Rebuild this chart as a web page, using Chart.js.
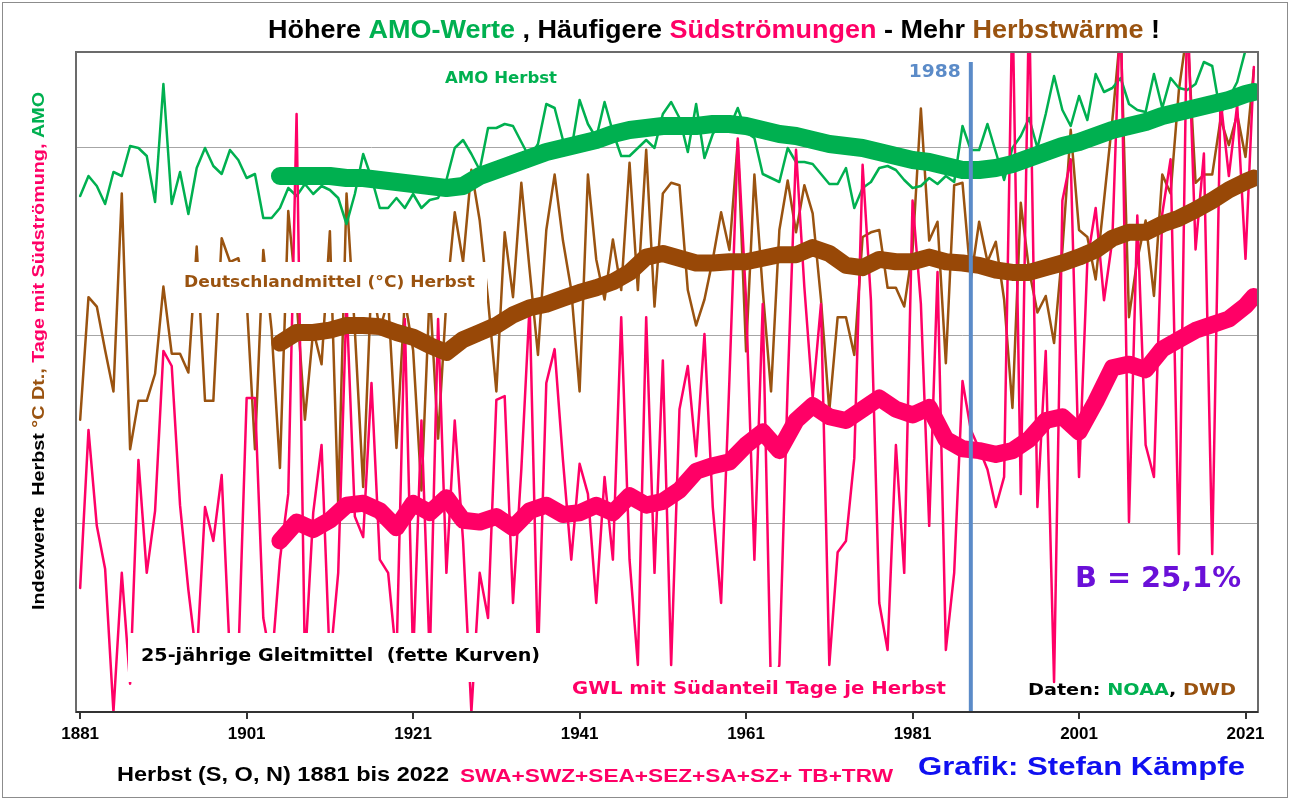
<!DOCTYPE html>
<html>
<head>
<meta charset="utf-8">
<title>Herbst 1881-2022</title>
<script src="https://cdn.jsdelivr.net/npm/chart.js@4.4.1/dist/chart.umd.min.js"></script>
<style>
  html, body { margin: 0; padding: 0; background: #fff; }
  #wrap { width: 1290px; height: 800px; }
</style>
</head>
<body>
<div id="wrap"><canvas id="herbstChart" width="1290" height="800"></canvas></div>
<script>
// Herbstwerte (S, O, N) 1881 bis 2022
const ersterJahrgang = 1881;

// AMO-Index Herbst (NOAA)
const amoHerbst = [
  -0.22, -0.12, -0.17, -0.26, -0.10, -0.12, 0.03, 0.02, -0.02, -0.25,
  0.34, -0.26, -0.10, -0.31, -0.08, 0.02, -0.07, -0.11, 0.01, -0.04,
  -0.13, -0.11, -0.33, -0.33, -0.28, -0.18, -0.22, -0.16, -0.21, -0.17,
  -0.19, -0.23, -0.36, -0.21, -0.01, -0.13, -0.28, -0.28, -0.23, -0.28,
  -0.21, -0.28, -0.24, -0.23, -0.14, 0.02, 0.06, -0.01, -0.09, 0.12,
  0.12, 0.14, 0.13, 0.05, -0.03, 0.04, 0.24, 0.22, 0.06, 0.01,
  0.26, 0.14, 0.07, 0.25, 0.10, -0.02, -0.02, 0.02, 0.06, 0.02,
  0.19, 0.25, 0.17, 0.00, 0.24, -0.03, 0.09, 0.15, 0.12, 0.22,
  0.10, 0.07, -0.11, -0.13, -0.15, 0.02, -0.05, -0.05, -0.06, -0.11,
  -0.16, -0.16, -0.08, -0.28, -0.18, -0.15, -0.08, -0.07, -0.09, -0.14,
  -0.18, -0.17, -0.13, -0.16, -0.12, -0.15, 0.13, 0.01, 0.01, 0.14,
  0.00, -0.14, 0.02, 0.08, 0.17, 0.02, 0.19, 0.38, 0.21, 0.13,
  0.28, 0.16, 0.39, 0.30, 0.32, 0.37, 0.24, 0.21, 0.20, 0.39,
  0.22, 0.37, 0.32, 0.31, 0.34, 0.45, 0.43, 0.19, 0.27, 0.35,
  0.51, 0.61
];

// Deutschlandmittel Herbst in °C (DWD)
const tempHerbst = [
  7.68, 8.72, 8.64, 8.27, 7.92, 9.60, 7.43, 7.84, 7.84, 8.07,
  8.81, 8.24, 8.24, 8.08, 9.15, 7.84, 7.84, 9.22, 9.02, 9.05,
  8.70, 7.43, 9.12, 8.44, 7.27, 9.45, 8.70, 7.68, 8.44, 8.15,
  9.28, 6.96, 9.60, 8.44, 7.11, 8.87, 8.44, 8.70, 7.44, 8.70,
  8.27, 7.08, 8.78, 7.52, 8.70, 9.44, 9.02, 9.80, 9.37, 8.70,
  7.92, 9.27, 8.72, 9.69, 8.95, 8.23, 9.29, 9.76, 9.20, 8.78,
  7.92, 9.76, 9.04, 8.70, 9.21, 8.78, 9.86, 8.78, 9.97, 8.64,
  9.60, 9.69, 9.67, 8.78, 8.48, 8.70, 9.04, 9.44, 9.12, 10.04,
  8.26, 9.76, 8.78, 7.92, 9.29, 9.71, 9.27, 9.67, 9.43, 8.70,
  7.76, 8.55, 8.55, 8.23, 9.23, 9.27, 9.29, 8.80, 8.80, 8.64,
  9.12, 10.32, 9.20, 9.36, 8.16, 9.67, 9.69, 8.87, 9.36, 9.02,
  9.19, 8.70, 7.78, 9.52, 8.95, 8.59, 8.73, 8.33, 9.12, 10.14,
  9.29, 9.23, 8.87, 9.54, 10.22, 10.99, 8.55, 9.04, 9.37, 8.73,
  9.76, 9.60, 10.48, 10.99, 9.69, 9.76, 9.76, 10.23, 10.01, 10.27,
  9.91, 10.65
];

// Tage mit Südanteil je Herbst (SWA+SWZ+SEA+SEZ+SA+SZ+TB+TRW)
const suedTage = [
  6.6, 15.0, 9.9, 7.6, 0, 7.4, 1.5, 13.4, 7.4, 10.7,
  19.2, 18.4, 11.0, 6.5, 2.8, 10.9, 9.1, 12.6, 2.8, 2.8,
  16.7, 16.7, 5.0, 2.5, 8.1, 11.6, 31.8, 2.5, 10.6, 14.2,
  2.5, 7.4, 21.9, 10.4, 9.3, 17.5, 8.1, 7.4, 2.8, 20.9,
  2.8, 15.5, 2.8, 20.9, 7.4, 15.5, 9.1, 0, 7.4, 5.0,
  16.6, 16.8, 5.8, 12.9, 21.7, 2.8, 17.5, 19.3, 13.4, 8.1,
  13.2, 11.6, 5.8, 12.5, 8.1, 21.0, 8.1, 2.5, 21.0, 7.4,
  18.7, 2.5, 16.1, 18.4, 13.6, 20.1, 10.9, 5.8, 17.7, 30.5,
  21.9, 8.1, 21.7, 0.9, 2.5, 17.4, 29.9, 22.6, 16.7, 21.7,
  2.5, 8.5, 9.1, 13.5, 29.1, 21.9, 5.8, 3.3, 14.2, 7.4,
  27.2, 21.7, 9.9, 23.4, 3.3, 7.4, 17.6, 15.0, 14.0, 12.9,
  10.9, 12.5, 38.0, 11.6, 38.0, 10.9, 19.2, 1.6, 27.2, 29.4,
  12.5, 24.0, 26.8, 21.9, 25.1, 38.0, 10.1, 26.4, 14.2, 12.5,
  26.5, 29.4, 8.4, 38.0, 24.6, 29.7, 8.4, 32.6, 28.5, 32.3,
  24.1, 34.3
];

// 25-jährige Gleitmittel (fette Kurven), Stützjahre
const gleitJahre = [
  1905, 1907, 1909, 1911, 1913, 1915, 1917, 1919, 1921, 1923,
  1925, 1927, 1929, 1931, 1933, 1935, 1937, 1939, 1941, 1943,
  1945, 1947, 1949, 1951, 1953, 1955, 1957, 1959, 1961, 1963,
  1965, 1967, 1969, 1971, 1973, 1975, 1977, 1979, 1981, 1983,
  1985, 1987, 1989, 1991, 1993, 1995, 1997, 1999, 2001, 2003,
  2005, 2007, 2009, 2011, 2013, 2015, 2017, 2019, 2021, 2022
];
const amoGleit = [
  -0.12, -0.12, -0.12, -0.12, -0.13, -0.13, -0.14, -0.15, -0.16, -0.17,
  -0.18, -0.17, -0.12, -0.09, -0.06, -0.03, 0.00, 0.02, 0.04, 0.06,
  0.09, 0.11, 0.12, 0.13, 0.13, 0.13, 0.14, 0.14, 0.13, 0.11,
  0.09, 0.08, 0.06, 0.04, 0.03, 0.02, 0.00, -0.02, -0.04, -0.05,
  -0.07, -0.09, -0.09, -0.08, -0.06, -0.03, 0.00, 0.03, 0.05, 0.08,
  0.11, 0.13, 0.15, 0.18, 0.20, 0.22, 0.24, 0.26, 0.29, 0.30
];
const tempGleit = [
  8.33, 8.42, 8.42, 8.44, 8.48, 8.48, 8.47, 8.42, 8.38, 8.31,
  8.25, 8.36, 8.42, 8.48, 8.57, 8.63, 8.66, 8.71, 8.76, 8.80,
  8.85, 8.93, 9.06, 9.09, 9.05, 9.01, 9.01, 9.02, 9.02, 9.05,
  9.08, 9.08, 9.14, 9.09, 8.99, 8.97, 9.04, 9.02, 9.02, 9.06,
  9.02, 9.01, 8.99, 8.95, 8.93, 8.93, 8.97, 9.01, 9.06, 9.12,
  9.22, 9.27, 9.27, 9.34, 9.39, 9.46, 9.54, 9.63, 9.70, 9.73
];
const suedGleit = [
  9.1, 10.1, 9.7, 10.2, 11.0, 11.1, 10.7, 9.8, 11.1, 10.6,
  11.4, 10.2, 10.1, 10.4, 9.8, 10.7, 11.0, 10.5, 10.6, 11.0,
  10.6, 11.5, 11.0, 11.2, 11.8, 12.8, 13.1, 13.3, 14.2, 14.9,
  13.9, 15.5, 16.3, 15.7, 15.5, 16.1, 16.7, 16.1, 15.8, 16.2,
  14.5, 14.0, 13.9, 13.7, 13.9, 14.5, 15.5, 15.7, 14.9, 16.5,
  18.3, 18.5, 18.2, 19.3, 19.8, 20.3, 20.6, 20.9, 21.6, 22.1
];

const tickJahre = [1881, 1901, 1921, 1941, 1961, 1981, 2001, 2021];
const markJahr = 1988;

const GRUEN = '#00b050';
const BRAUN = '#9a5310';
const BRAUN_DICK = '#984807';
const PINK = '#ff0066';
const STAHLBLAU = '#5b8bc8';

const F_SCHMAL = '"Liberation Sans Narrow", "Arial Narrow", "Liberation Sans", Arial, sans-serif';
const F_BREIT = '"DejaVu Sans", Verdana, sans-serif';

const jahre = amoHerbst.map((_, i) => ersterJahrgang + i);
const punkte = (xs, ys) => ys.map((v, i) => ({ x: xs[i], y: v }));

// mehrfarbiger Text, auf eine feste Breite gestaucht
function buntText(ctx, teile, x, y, breite, font, drehen) {
  ctx.save();
  ctx.font = font;
  let gesamt = 0;
  teile.forEach(t => { gesamt += ctx.measureText(t[0]).width; });
  ctx.translate(x, y);
  if (drehen) ctx.rotate(-Math.PI / 2);
  ctx.scale(breite / gesamt, 1);
  ctx.textBaseline = 'middle';
  ctx.textAlign = 'left';
  let cx = 0;
  teile.forEach(t => {
    ctx.fillStyle = t[1];
    ctx.fillText(t[0], cx, 0);
    cx += ctx.measureText(t[0]).width;
  });
  ctx.restore();
}

function weissFeld(ctx, x0, y0, x1, y1) {
  ctx.save();
  ctx.fillStyle = '#fff';
  ctx.fillRect(x0, y0, x1 - x0, y1 - y0);
  ctx.restore();
}

const deko = {
  id: 'deko',
  beforeDraw(chart) {
    const c = chart.ctx;
    c.save();
    c.fillStyle = '#fff';
    c.fillRect(0, 0, chart.width, chart.height);
    c.restore();
  },
  afterDatasetsDraw(chart) {
    const c = chart.ctx;
    const a = chart.chartArea;
    const mx = chart.scales.x.getPixelForValue(markJahr);

    // senkrechte Linie 1988
    c.save();
    c.strokeStyle = STAHLBLAU;
    c.lineWidth = 4;
    c.beginPath();
    c.moveTo(mx, a.top + 10);
    c.lineTo(mx, a.bottom);
    c.stroke();
    c.restore();

    // Beschriftungen im Diagramm
    buntText(c, [['1988', STAHLBLAU]], mx - 62, 73, 52, 'bold 17px ' + F_BREIT);
    buntText(c, [['AMO Herbst', GRUEN]], 445, 79, 112, 'bold 15px ' + F_BREIT);

    weissFeld(c, 178, 262, 487, 313);
    buntText(c, [['Deutschlandmittel (°C) Herbst', BRAUN]], 184, 283, 291, 'bold 15px ' + F_BREIT);

    weissFeld(c, 128, 633, 548, 682);
    buntText(c, [['25-jährige Gleitmittel  (fette Kurven)', '#000']], 141, 657, 399, 'bold 17px ' + F_BREIT);

    weissFeld(c, 562, 667, 958, 708);
    buntText(c, [['GWL mit Südanteil Tage je Herbst', PINK]], 572, 690, 374, 'bold 17px ' + F_BREIT);

    buntText(c, [['B = 25,1%', '#6a10d8']], 1075, 579, 166, 'bold 29px ' + F_BREIT);

    buntText(c, [['Daten: ', '#000'], ['NOAA', GRUEN], [', ', '#000'], ['DWD', BRAUN]],
      1028, 691, 208, 'bold 16px ' + F_BREIT);

    // Rahmen der Zeichenfläche
    c.save();
    c.strokeStyle = '#6b6b6b';
    c.lineWidth = 2;
    c.strokeRect(a.left, a.top, a.right - a.left, a.bottom - a.top);
    c.strokeStyle = '#333';
    c.beginPath();
    c.moveTo(a.left, a.bottom);
    c.lineTo(a.right, a.bottom);
    c.stroke();
    c.restore();
  },
  afterDraw(chart) {
    const c = chart.ctx;

    buntText(c, [
      ['Höhere ', '#000'], ['AMO-Werte', GRUEN], [' , Häufigere ', '#000'],
      ['Südströmungen', PINK], [' - Mehr ', '#000'], ['Herbstwärme', BRAUN], [' !', '#000']
    ], 268, 31, 892, 'bold 26px ' + F_SCHMAL);

    buntText(c, [
      ['Indexwerte  Herbst ', '#000'], ['°C Dt.,', BRAUN],
      [' Tage mit Südströmung,', PINK], [' AMO', GRUEN]
    ], 40, 610, 518, 'bold 16px "Liberation Sans", Arial, sans-serif', true);

    buntText(c, [['Herbst (S, O, N) 1881 bis 2022', '#000']], 117, 775, 332, 'bold 21px ' + F_SCHMAL);
    buntText(c, [['SWA+SWZ+SEA+SEZ+SA+SZ+ TB+TRW', PINK]], 460, 777, 433, 'bold 18px ' + F_SCHMAL);
    buntText(c, [['Grafik: Stefan Kämpfe', '#1010f0']], 918, 768, 327, 'bold 26px ' + F_SCHMAL);

    // äußerer Rahmen
    c.save();
    c.strokeStyle = '#8c8c8c';
    c.lineWidth = 1;
    c.strokeRect(2.5, 2.5, chart.width - 5, chart.height - 5);
    c.restore();
  }
};

const ctx = document.getElementById('herbstChart');
new Chart(ctx, {
  type: 'line',
  data: {
    datasets: [
      {
        label: 'AMO 25 J.',
        data: punkte(gleitJahre, amoGleit),
        yAxisID: 'yAmo',
        borderColor: GRUEN,
        borderWidth: 18,
        order: 0
      },
      {
        label: 'Temperatur 25 J.',
        data: punkte(gleitJahre, tempGleit),
        yAxisID: 'yTemp',
        borderColor: BRAUN_DICK,
        borderWidth: 17,
        order: 1
      },
      {
        label: 'Südlagen 25 J.',
        data: punkte(gleitJahre, suedGleit),
        yAxisID: 'y',
        borderColor: PINK,
        borderWidth: 17,
        order: 2
      },
      {
        label: 'Südlagen',
        data: punkte(jahre, suedTage),
        yAxisID: 'y',
        borderColor: PINK,
        borderWidth: 2.5,
        order: 3
      },
      {
        label: 'AMO',
        data: punkte(jahre, amoHerbst),
        yAxisID: 'yAmo',
        borderColor: GRUEN,
        borderWidth: 2.5,
        order: 4
      },
      {
        label: 'Temperatur',
        data: punkte(jahre, tempHerbst),
        yAxisID: 'yTemp',
        borderColor: BRAUN,
        borderWidth: 2.5,
        order: 5
      }
    ]
  },
  options: {
    responsive: false,
    devicePixelRatio: 1,
    animation: false,
    layout: { padding: { left: 76, right: 32, top: 52, bottom: 0 } },
    elements: {
      point: { radius: 0, hoverRadius: 0 },
      line: { tension: 0, fill: false, borderCapStyle: 'round', borderJoinStyle: 'round' }
    },
    datasets: { line: { clip: 1 } },
    scales: {
      x: {
        type: 'linear',
        min: 1880.5,
        max: 2022.5,
        afterBuildTicks: s => { s.ticks = tickJahre.map(v => ({ value: v })); },
        afterFit: s => { s.height = 88; },
        ticks: {
          autoSkip: false,
          maxRotation: 0,
          padding: 5,
          color: '#000',
          font: { family: F_SCHMAL, size: 17, weight: 'bold' },
          callback: v => String(v)
        },
        grid: { drawOnChartArea: false, drawTicks: true, tickLength: 7, color: '#333', lineWidth: 2 },
        border: { display: true, color: '#333', width: 2 }
      },
      y: {
        min: 0,
        max: 35.1,
        afterBuildTicks: s => { s.ticks = [10, 20, 30].map(v => ({ value: v })); },
        afterFit: s => { s.width = 0; },
        ticks: { display: false },
        grid: { color: '#a6a6a6', lineWidth: 1, drawTicks: false },
        border: { display: false }
      },
      yTemp: { display: false, min: 5.2, max: 10.8 },
      yAmo: { display: false, min: -2.8, max: 0.5 }
    },
    plugins: {
      legend: { display: false },
      tooltip: { enabled: false },
      title: { display: false }
    }
  },
  plugins: [deko]
});
</script>
</body>
</html>
